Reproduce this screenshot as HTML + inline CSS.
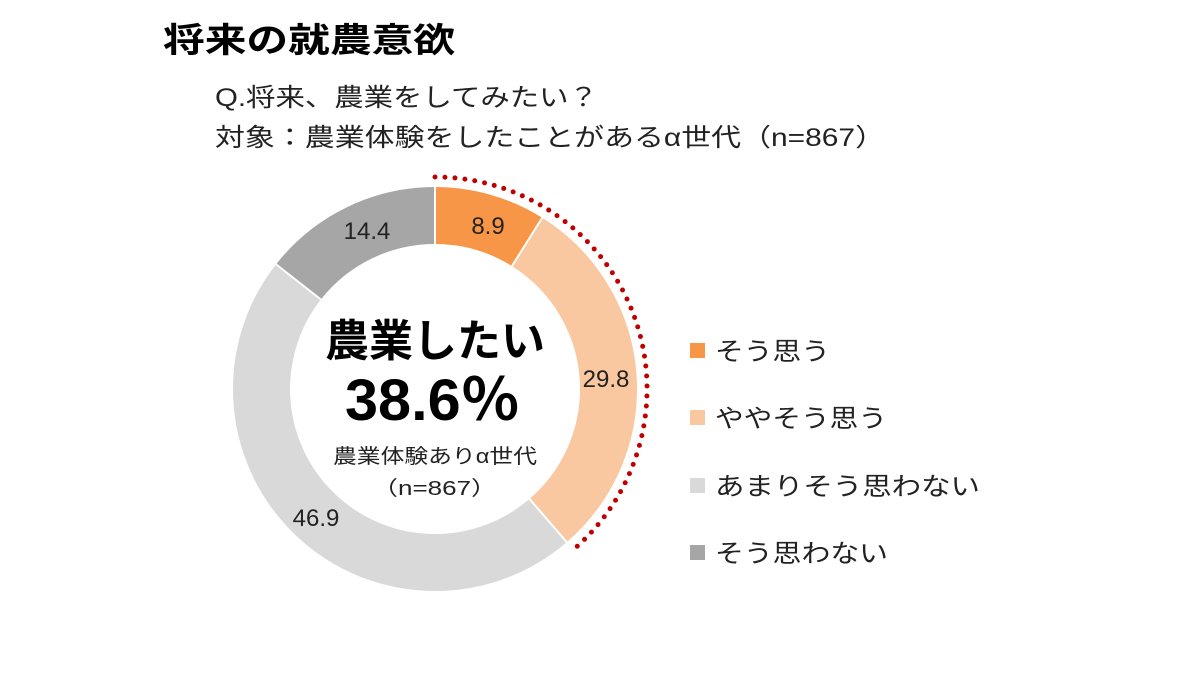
<!DOCTYPE html>
<html><head><meta charset="utf-8"><style>
body{margin:0;background:#fff;}
svg text{font-family:"Liberation Sans","Noto Sans CJK JP",sans-serif;}
</style></head><body>
<svg width="1200" height="675" xmlns="http://www.w3.org/2000/svg">
<rect width="1200" height="675" fill="#fff"/>
<text x="163" y="52" font-size="34" font-weight="bold" fill="#000" textLength="292" lengthAdjust="spacingAndGlyphs">将来の就農意欲</text>
<text x="215" y="106" font-size="25" fill="#222" textLength="383" lengthAdjust="spacingAndGlyphs">Q.将来、農業をしてみたい？</text>
<text x="215" y="146" font-size="25" fill="#222" textLength="670" lengthAdjust="spacingAndGlyphs">対象：農業体験をしたことがあるα世代（n=867）</text>
<g transform="rotate(-90 435 389)" fill="none" stroke-width="57">
<circle cx="435" cy="389" r="173.5" stroke="#F79646" stroke-dasharray="97.02 2000" stroke-dashoffset="0"/>
<circle cx="435" cy="389" r="173.5" stroke="#FAC8A0" stroke-dasharray="0 97.02 324.85 2000"/>
<circle cx="435" cy="389" r="173.5" stroke="#D9D9D9" stroke-dasharray="0 421.87 511.26 2000"/>
<circle cx="435" cy="389" r="173.5" stroke="#A6A6A6" stroke-dasharray="0 933.13 157 2000"/>
</g>
<g stroke="#fff" stroke-width="2">
<line x1="435" y1="246" x2="435" y2="185"/>
<line x1="511.9" y1="266.1" x2="543" y2="216.5"/>
<line x1="529.5" y1="498.9" x2="567.5" y2="543"/>
<line x1="320.9" y1="299.5" x2="275" y2="263.5"/>
</g>
<path d="M435 177 A212 212 0 0 1 573.2 549.8" fill="none" stroke="#C00000" stroke-width="5" stroke-linecap="round" stroke-dasharray="0 10"/>
<g font-size="24" fill="#222" text-anchor="middle">
<text x="488" y="234">8.9</text>
<text x="367" y="239">14.4</text>
<text x="606" y="387">29.8</text>
<text x="316" y="526">46.9</text>
</g>
<g fill="#000">
<text x="325" y="356" font-size="44" font-weight="bold" textLength="220" lengthAdjust="spacingAndGlyphs">農業したい</text>
<text x="345" y="420" font-size="58" font-weight="bold" textLength="175" lengthAdjust="spacingAndGlyphs">38.6％</text>
<text x="333" y="463" font-size="20" fill="#222" textLength="204" lengthAdjust="spacingAndGlyphs">農業体験ありα世代</text>
<text x="372" y="495" font-size="20" fill="#222" textLength="125" lengthAdjust="spacingAndGlyphs">（n=867）</text>
</g>
<rect x="690" y="343" width="15" height="15" fill="#F79646"/>
<rect x="690" y="410" width="15" height="15" fill="#FAC8A0"/>
<rect x="690" y="478" width="15" height="15" fill="#D9D9D9"/>
<rect x="690" y="545" width="15" height="15" fill="#A6A6A6"/>
<g font-size="25" fill="#222">
<text x="715" y="360" textLength="115" lengthAdjust="spacingAndGlyphs">そう思う</text>
<text x="715" y="427" textLength="172" lengthAdjust="spacingAndGlyphs">ややそう思う</text>
<text x="715" y="495" textLength="265" lengthAdjust="spacingAndGlyphs">あまりそう思わない</text>
<text x="715" y="562" textLength="173" lengthAdjust="spacingAndGlyphs">そう思わない</text>
</g>
</svg>
</body></html>
